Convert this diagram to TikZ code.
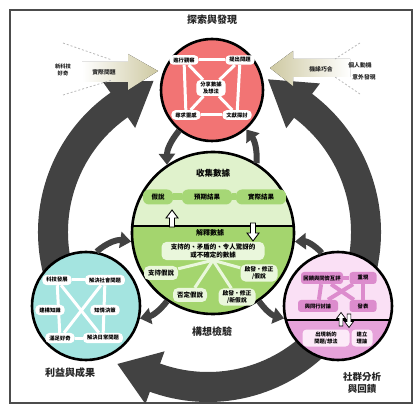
\documentclass[tikz,border=0pt]{standalone}
\usepackage{fontspec}
\newfontfamily\cjk{Noto Sans CJK TC}
\usetikzlibrary{arrows.meta,calc}

\definecolor{ringgray}{RGB}{66,66,66}
\definecolor{beige}{RGB}{206,201,162}
\definecolor{exred}{RGB}{242,116,116}
\definecolor{tstup}{RGB}{224,242,204}
\definecolor{tstmid}{RGB}{166,215,118}
\definecolor{tstlow}{RGB}{164,213,110}
\definecolor{tstlight}{RGB}{234,247,220}
\definecolor{bencyan}{RGB}{164,228,224}
\definecolor{comup}{RGB}{250,224,245}
\definecolor{commid}{RGB}{220,140,205}
\definecolor{comlow}{RGB}{230,162,218}
\definecolor{comlight}{RGB}{252,234,248}

\newcommand\smallcjk{\cjk\bfseries\fontsize{5.3}{6.4}\selectfont}
\newcommand\sidecjk{\cjk\bfseries\fontsize{5.8}{7.2}\selectfont}
\newcommand\boxcjk{\cjk\bfseries\fontsize{6.5}{7.8}\selectfont}
\newcommand\titlecjk{\cjk\bfseries\fontsize{10}{12.5}\selectfont}

\begin{document}
\begin{tikzpicture}[x=1pt,y=1pt,
    ring/.style={line width=30pt, ringgray},
    link/.style={line width=6pt, ringgray, -{Triangle[length=11pt,width=16pt]}},
    bigcircle/.style={circle, draw=black, line width=2.6pt, inner sep=0pt},
    title/.style={font=\titlecjk, text=black!85, align=center},
    side/.style={font=\sidecjk, text=black!85, align=center},
    dashline/.style={gray!55, line width=0.8pt, dash pattern=on 2pt off 2pt},
    redbox/.style={fill=white, rounded corners=4pt, inner xsep=4pt, inner ysep=2.2pt, font=\smallcjk, align=center},
    cyanbox/.style={fill=white, rounded corners=4pt, inner xsep=4pt, inner ysep=2.5pt, font=\smallcjk},
    greenbox/.style={fill=tstmid, rounded corners=6pt, minimum height=15pt, inner sep=1pt, font=\boxcjk},
    lightbox/.style={fill=tstlight, rounded corners=5pt, minimum height=14pt, inner xsep=4pt, inner ysep=2pt, font=\boxcjk, align=center},
    pinkbox/.style={fill=commid, rounded corners=3pt, minimum height=12pt, inner sep=1pt, font=\smallcjk},
    paleboxpink/.style={fill=comlight, rounded corners=4pt, minimum height=17pt, inner sep=1pt, font=\smallcjk, align=center},
    blockarrow/.style={fill=white, draw=black, line width=0.9pt, line join=miter}]

\useasboundingbox (0,0) rectangle (420,415);
\draw[black!70, line width=1.2pt] (10,12) rectangle (412,405);

% big cycle arrows behind the circles
\coordinate (ring) at (208,183);
\draw[ring] ($(ring)+(210:155)$) arc[start angle=210, end angle=124, radius=155];
\fill[ringgray] ($(ring)+(125:127)$) -- ($(ring)+(125:183)$) -- ($(ring)+(125:155)+(35:42)$) -- cycle;
\draw[ring] ($(ring)+(-30:158)$) arc[start angle=-30, end angle=54, radius=158];
\fill[ringgray] ($(ring)+(53:130)$) -- ($(ring)+(53:186)$) -- ($(ring)+(53:158)+(143:44)$) -- cycle;
\draw[ring] ($(ring)+(318:155)$) arc[start angle=318, end angle=249, radius=155];
\fill[ringgray] ($(ring)+(250:127)$) -- ($(ring)+(250:183)$) -- ($(ring)+(250:155)+(160:40)$) -- cycle;

% entry arrows
\fill[left color=white, right color=beige] (82,353) -- (128,353) -- (128,361) -- (158,344) -- (128,325) -- (128,333) -- (82,333) -- cycle;
\draw[dashline] (63,372) -- (112,355);
\draw[dashline] (63,320) -- (112,335);
\node[side, font=\smallcjk] (tech) at (63,345) {新科技\\好奇};
\node[side] (practical) at (104,343) {實際問題};
\fill[left color=beige, right color=white] (270,347) -- (293,364) -- (293,356) -- (350,356) -- (350,338) -- (293,338) -- (293,329) -- cycle;
\draw[dashline] (360,372) -- (335,356);
\draw[dashline] (360,321) -- (335,338);
\node[side] (chance) at (321,346) {機緣巧合};
\node[side] (motive) at (360,350) {個人動機};
\node[side] (surprise) at (364,338) {意外發現};

% the four circles
\node[bigcircle, fill=exred, minimum size=102pt] (explore) at (212,325) {};
\node[bigcircle, fill=tstup, minimum size=162pt, path picture={
    \fill[tstlow] ([yshift=7pt]path picture bounding box.west) rectangle (path picture bounding box.south east);
    \draw[line width=1.2pt] ([yshift=7pt]path picture bounding box.west) -- ([yshift=7pt]path picture bounding box.east);}] (test) at (213,182) {};
\node[bigcircle, fill=bencyan, minimum size=108pt] (benefit) at (86,109) {};
\node[bigcircle, fill=comup, minimum size=108pt, path picture={
    \fill[comlow] ([yshift=-14pt]path picture bounding box.west) rectangle (path picture bounding box.south east);
    \draw[line width=1.2pt] ([yshift=-14pt]path picture bounding box.west) -- ([yshift=-14pt]path picture bounding box.east);}] (community) at (338,109) {};

% exploration and discovery
\node[title] (exploretitle) at (212,395) {探索與發現};
\node[redbox] (observe) at (184,355) {進行觀察};
\node[redbox] (ask) at (240,355) {提出問題};
\node[redbox] (share) at (211,327) {分享數據\\及想法};
\node[redbox] (inspire) at (186,300) {尋求靈感};
\node[redbox] (lit) at (237,300) {文獻探討};
\draw[white, line width=3pt] (observe) -- (ask);
\draw[white, line width=3pt] (inspire) -- (lit);
\draw[white, line width=3pt] (observe) -- (inspire);
\draw[white, line width=3pt] (ask) -- (lit);
\draw[white, line width=3pt] (observe) -- (share) -- (lit);
\draw[white, line width=3pt] (ask) -- (share) -- (inspire);

% testing ideas
\node[font=\cjk\bfseries\fontsize{8.5}{10}\selectfont] (gather) at (213,242) {收集數據};
\node[greenbox, minimum width=30pt] (hyp) at (158,218) {假說};
\node[greenbox, minimum width=50pt] (expect) at (207,218) {預期結果};
\node[greenbox, minimum width=50pt] (actual) at (261,218) {實際結果};
\draw[tstmid, line width=7pt] (hyp) -- (expect) -- (actual);
\draw[blockarrow, shift={(172,188)}] (-2.5,0) -- (-2.5,9) -- (-6,9) -- (0,17) -- (6,9) -- (2.5,9) -- (2.5,0) -- cycle;
\draw[blockarrow, shift={(253,192)}, yscale=-1] (-2.5,0) -- (-2.5,10) -- (-6,10) -- (0,18) -- (6,10) -- (2.5,10) -- (2.5,0) -- cycle;
\node[font=\cjk\bfseries\fontsize{7}{8}\selectfont] (interpret) at (210,182) {解釋數據};
\node[lightbox, minimum width=103pt] (data) at (213,164) {支持的、矛盾的、令人驚訝的\\或不確定的數據};
\node[lightbox] (support) at (161,142) {支持假說};
\node[lightbox] (refute) at (190,120) {否定假說};
\node[lightbox, font=\cjk\bfseries\fontsize{5.8}{7}\selectfont] (newhyp) at (237,118) {啟發・修正\\/新假說};
\node[lightbox, font=\cjk\bfseries\fontsize{5.8}{7}\selectfont] (revise) at (259,142) {啟發・修正\\/假說};
\foreach \n in {support,refute,newhyp,revise}
  \draw[tstlight, line width=3pt] (data.south) -- (\n);
\node[title] (testtitle) at (212,83) {構想檢驗};

% benefits and outcomes
\node[cyanbox] (techdev) at (57,135) {科技發展};
\node[cyanbox] (social) at (105,135) {解決社會問題};
\node[cyanbox] (curious) at (60,77) {滿足好奇};
\node[cyanbox] (everyday) at (103,77) {解決日常問題};
\draw[white, line width=3pt] (techdev) -- (social);
\draw[white, line width=3pt] (curious) -- (everyday);
\draw[white, line width=3pt] (techdev) -- (curious);
\draw[white, line width=3pt] (social) -- (everyday);
\draw[white, line width=3pt] (techdev) -- (everyday);
\draw[white, line width=3pt] (social) -- (curious);
\node[cyanbox] (knowledge) at (50,105) {建構知識};
\node[cyanbox] (policy) at (105,105) {知情決策};
\node[title] (benefittitle) at (70,42) {利益與成果};

% community analysis and feedback
\node[pinkbox, minimum width=42pt] (review) at (322,137) {回饋與同儕互評};
\node[pinkbox, minimum width=27pt] (replicate) at (363,137) {重現};
\node[pinkbox, minimum width=40pt] (discuss) at (318,109) {與同行討論};
\node[pinkbox, minimum width=27pt] (publish) at (363,109) {發表};
\draw[commid, line width=4pt] (review) -- (replicate);
\draw[commid, line width=4pt] (review) -- (discuss);
\draw[commid, line width=4pt] (replicate) -- (publish);
\draw[commid, line width=4pt] (review) -- (publish);
\draw[commid, line width=4pt] (replicate) -- (discuss);
\draw[blockarrow, line width=0.7pt, shift={(341,89)}, scale=0.75] (-2.5,0) -- (-2.5,10) -- (-6,10) -- (0,18) -- (6,10) -- (2.5,10) -- (2.5,0) -- cycle;
\draw[blockarrow, line width=0.7pt, shift={(349,101)}, yscale=-0.75, xscale=0.75] (-2.5,0) -- (-2.5,10) -- (-6,10) -- (0,18) -- (6,10) -- (2.5,10) -- (2.5,0) -- cycle;
\node[paleboxpink, minimum width=47pt] (newideas) at (326,77) {出現新的\\問題/想法};
\node[paleboxpink, minimum width=21pt] (theory) at (362,77) {建立\\理論};
\node[title, font=\cjk\bfseries\fontsize{9.5}{12}\selectfont] (communitytitle) at (362,32) {社群分析\\與回饋};

% links between the circles
\draw[link] (explore.231) to[bend right=20] (test.124);
\draw[link] (test.58) to[bend right=20] (explore.311);
\draw[link] (benefit.79) to[bend left=25] (test.186);
\draw[link] (test.236) to[bend left=20] (benefit.347);
\draw[link] (community.107) to[bend right=25] (test.354);
\draw[link] (test.304) to[bend right=20] (community.193);
\end{tikzpicture}
\end{document}
